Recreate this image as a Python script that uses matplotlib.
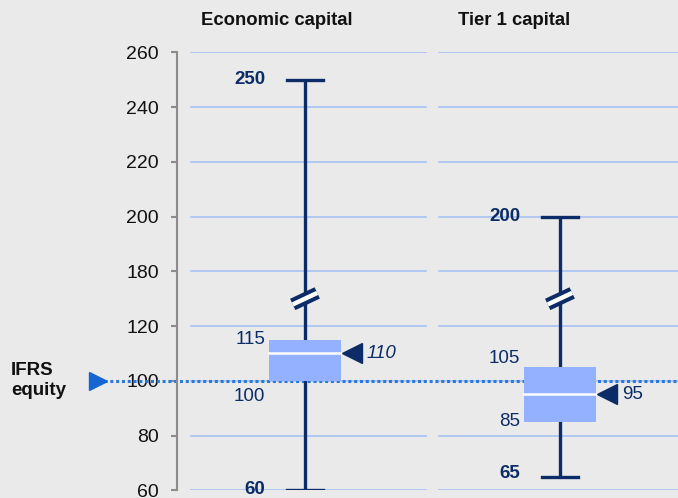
import matplotlib.pyplot as plt
from matplotlib.lines import Line2D

plt.rcParams['font.family'] = ['Liberation Sans', 'DejaVu Sans']

# data
CATEGORIES = ["Economic capital", "Tier 1 capital"]
WHISKER_LOW = [60, 65]
BOX_LOW = [100, 85]
MEDIAN = [110, 95]
BOX_HIGH = [115, 105]
WHISKER_HIGH = [250, 200]
IFRS_EQUITY = 100
Y_TICKS = [60, 80, 100, 120, 180, 200, 220, 240, 260]

BG = "#EAEAEA"
NAVY = "#0B2C66"
BOX_COLOR = "#93B1FF"
GRID = "#A9C2F2"
DOT = "#2B7ADB"
TRI = "#1566D2"

BREAK_LO, BREAK_HI = 120, 180


def squash(v):
    # broken axis: values above the break are shifted down
    return v if v <= BREAK_LO else v - (BREAK_HI - BREAK_LO - 20)


W, H = 678, 498
fig = plt.figure(figsize=(W / 100, H / 100), dpi=100, facecolor=BG)
ax = fig.add_axes([177 / W, (H - 490.3) / H, (678 - 177) / W, (490.3 - 52.3) / H])
ax.set_facecolor(BG)
ax.set_xlim(-0.502, 1.463)
ax.set_ylim(squash(60), squash(260))

for s in ("top", "right", "bottom"):
    ax.spines[s].set_visible(False)
ax.spines["left"].set_color("#8C8C8C")
ax.spines["left"].set_linewidth(1.5)
ax.set_xticks([])
ax.set_yticks([squash(t) for t in Y_TICKS])
ax.set_yticklabels([str(t) for t in Y_TICKS])
ax.tick_params(axis="y", length=4, width=1.5, color="#8C8C8C",
               labelsize=14, pad=9, labelcolor="#111111")
for lab in ax.get_yticklabels():
    if lab.get_text() == str(IFRS_EQUITY):
        lab.set_bbox(dict(facecolor=BG, edgecolor="none", pad=1))

# gridlines, split between the two panels
for t in Y_TICKS:
    y = squash(t)
    ax.plot([-0.447, 0.476], [y, y], color=GRID, lw=1.2, zorder=1)
    ax.plot([0.525, 1.463], [y, y], color=GRID, lw=1.2, zorder=1)

# IFRS equity line
ax.plot([-0.79, 1.463], [IFRS_EQUITY, IFRS_EQUITY], color=DOT, lw=2.2,
        ls=(0, (1, 0.9)), zorder=2, clip_on=False)
ax.plot([-0.812], [IFRS_EQUITY], marker=">", ms=13, color=TRI,
        clip_on=False, zorder=3)
fig.text(11 / W, 1 - 380.5 / H, "IFRS\nequity", fontsize=13.5, fontweight="bold",
         ha="left", va="center", linespacing=1.3, color="#111111")

half_box = 0.142
half_cap = 0.069
for i, name in enumerate(CATEGORIES):
    lo, hi = squash(WHISKER_LOW[i]), squash(WHISKER_HIGH[i])
    ax.plot([i, i], [lo, hi], color=NAVY, lw=2.4, zorder=4, solid_capstyle="butt")
    ax.plot([i - half_cap, i + half_cap], [lo, lo], color=NAVY, lw=2.4, zorder=4)
    ax.plot([i - half_cap, i + half_cap], [hi, hi], color=NAVY, lw=2.4, zorder=4)
    b0, b1 = squash(BOX_LOW[i]), squash(BOX_HIGH[i])
    ax.add_patch(plt.Rectangle((i - half_box, b0), 2 * half_box, b1 - b0,
                               facecolor=BOX_COLOR, edgecolor="none", zorder=5))
    m = squash(MEDIAN[i])
    ax.plot([i - half_box, i + half_box], [m, m], color="white", lw=1.8, zorder=6)

    # break marks on the whisker
    yb = (squash(BREAK_LO) + squash(BREAK_HI)) / 2
    for c, lw in ((NAVY, 9), ("white", 3.2)):
        ax.add_line(Line2D([i - 0.048, i + 0.048], [yb - 2.1, yb + 2.1],
                           color=c, lw=lw, zorder=7, solid_capstyle="butt"))

    # median marker
    ax.plot([i + half_box + 0.043], [m], marker="<", ms=14, color=NAVY, zorder=6)
    ax.text(i + half_box + 0.1, m, str(MEDIAN[i]), fontsize=13.5, color=NAVY,
            va="center", ha="left", style="italic" if i == 0 else "normal")

    # value labels
    xl = i - 0.155
    ax.text(xl, hi, str(WHISKER_HIGH[i]), fontsize=13.5, fontweight="bold",
            color=NAVY, ha="right", va="center")
    ax.annotate(str(WHISKER_LOW[i]), (xl, lo), xytext=(0, 0.5 if i == 0 else 2.5),
                textcoords="offset points", fontsize=13.5, fontweight="bold",
                color=NAVY, ha="right", va="center", annotation_clip=False)
    ax.annotate(str(BOX_HIGH[i]), (xl, b1), xytext=(0, 0 if i == 0 else 6.5),
                textcoords="offset points", fontsize=13.5, color=NAVY,
                ha="right", va="center")
    ax.annotate(str(BOX_LOW[i]), (xl, b0), xytext=(0, -11.5 if i == 0 else 0),
                textcoords="offset points", fontsize=13.5, color=NAVY,
                ha="right", va="center")

# panel titles
fig.text(277 / W, 1 - 20 / H, CATEGORIES[0], fontsize=13.3, fontweight="bold",
         ha="center", va="center", color="#111111")
fig.text(514 / W, 1 - 20 / H, CATEGORIES[1], fontsize=13.3, fontweight="bold",
         ha="center", va="center", color="#111111")

fig.savefig("out.png", dpi=100, facecolor=BG)
